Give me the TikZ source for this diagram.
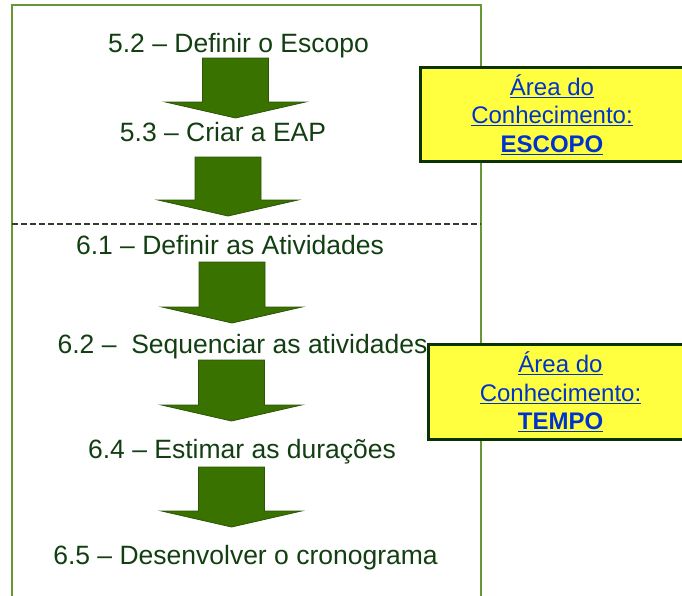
\documentclass[tikz,border=0pt]{standalone}
\usepackage{fontspec}
\setmainfont{Liberation Sans}
\usetikzlibrary{calc}
\definecolor{textoverde}{HTML}{123F12}
\definecolor{setaverde}{HTML}{3A7200}
\definecolor{bordaseta}{HTML}{2B5508}
\definecolor{moldura}{HTML}{669933}
\definecolor{tracejado}{HTML}{2E3F2A}
\definecolor{amarelo}{HTML}{FFFF40}
\definecolor{bordacaixa}{HTML}{0A3300}
\definecolor{azul}{HTML}{0033CC}

\tikzset{
  etapa/.style={anchor=base, inner sep=0pt, text=textoverde, font=\fontsize{26.5}{30}\selectfont},
  area/.style={draw=bordacaixa, line width=3pt, fill=amarelo, align=center, text=azul,
    font=\fontsize{24}{28.5}\selectfont, inner sep=0pt},
  seta/.style={fill=setaverde, draw=bordaseta, line width=0.8pt, line join=miter},
}
% block arrow: #1 top of shaft, #2 tip
\newcommand{\setabloco}[2]{%
  \path[seta] let \p1=(#1), \p2=(#2) in
    (\x1-33pt,\y1) -- (\x1+33pt,\y1) -- (\x1+33pt,\y2+16pt) -- (\x1+70pt,\y2+16pt)
    -- (\x2,\y2) -- (\x1-70pt,\y2+16pt) -- (\x1-33pt,\y2+16pt) -- cycle;}

\begin{document}
\begin{tikzpicture}[x=1pt, y=-1pt]
        \useasboundingbox (0,0) rectangle (682,595);
        % frame
        \draw[moldura, line width=1.5pt] (12,600) -- (12,5) -- (481,5) -- (481,600);
        \draw[tracejado, line width=1.5pt, dash pattern=on 6pt off 3pt] (12,224) -- (481,224);
        % nodes
        \node[etapa] (e52) at (238.5,52)  {5.2 – Definir o Escopo};
        \node[etapa] (e53) at (223,141)   {5.3 – Criar a EAP};
        \node[etapa] (e61) at (230,254)   {6.1 – Definir as Atividades};
        \node[etapa] (e62) at (242.5,353) {6.2 –\ \ Sequenciar as atividades};
        \node[etapa] (e64) at (242,458)   {6.4 – Estimar as durações};
        \node[etapa] (e65) at (245.5,564) {6.5 – Desenvolver o cronograma};
        % arrows
        \coordinate (a1-topo) at (235.5,58);  \coordinate (a1-ponta) at (235.5,118);
        \coordinate (a2-topo) at (228,157);   \coordinate (a2-ponta) at (228,216);
        \coordinate (a3-topo) at (232,262);   \coordinate (a3-ponta) at (232,323);
        \coordinate (a4-topo) at (231.5,360); \coordinate (a4-ponta) at (231.5,421);
        \coordinate (a5-topo) at (231.5,467); \coordinate (a5-ponta) at (231.5,527);
        \setabloco{a1-topo}{a1-ponta}
        \setabloco{a2-topo}{a2-ponta}
        \setabloco{a3-topo}{a3-ponta}
        \setabloco{a4-topo}{a4-ponta}
        \setabloco{a5-topo}{a5-ponta}
        % boxes
        \node[area, minimum width=263pt, minimum height=94pt] (escopo) at (552,114.5)
          {\underline{Área do}\\\underline{Conhecimento:}\\\underline{\textbf{ESCOPO}}};
        \node[area, minimum width=264pt, minimum height=95pt] (tempo) at (560.5,392)
          {\underline{Área do}\\\underline{Conhecimento:}\\\underline{\textbf{TEMPO}}};
\end{tikzpicture}
\end{document}
